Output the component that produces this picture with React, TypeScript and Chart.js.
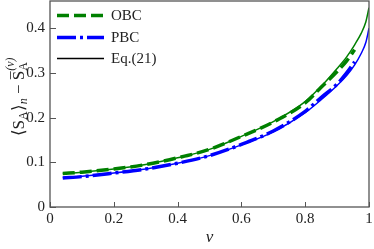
import React, { useEffect, useRef } from "react";
import { Chart, registerables } from "chart.js";

Chart.register(...registerables);

// ν values for the numerical curves
const nuNum = [0.04, 0.1, 0.2, 0.3, 0.4, 0.5, 0.6, 0.7, 0.8, 0.85, 0.9, 0.93, 0.955];
const obcValues = [0.075, 0.078, 0.085, 0.095, 0.11, 0.129, 0.158, 0.19, 0.233, 0.268, 0.303, 0.327, 0.352];
const pbcValues = [0.065, 0.068, 0.076, 0.085, 0.098, 0.115, 0.14, 0.17, 0.214, 0.245, 0.275, 0.3, 0.325];

// ν values for Eq.(21)
const nuEq = [0.04, 0.1, 0.2, 0.3, 0.4, 0.5, 0.6, 0.7, 0.8, 0.85, 0.9, 0.93, 0.955, 0.975, 0.99, 1];
const eqObcValues = [0.075, 0.078, 0.085, 0.095, 0.11, 0.129, 0.158, 0.191, 0.236, 0.27, 0.31, 0.336, 0.363, 0.388, 0.414, 0.446];
const eqPbcValues = [0.066, 0.069, 0.076, 0.085, 0.098, 0.115, 0.139, 0.168, 0.211, 0.24, 0.272, 0.294, 0.318, 0.343, 0.368, 0.4];

const legendLabels = ["OBC", "PBC", "Eq.(21)"];
const xTicks = [0, 0.2, 0.4, 0.6, 0.8, 1];
const yTicks = [0, 0.1, 0.2, 0.3, 0.4];

const GREEN = "#008000";
const BLUE = "#0000ff";
const AXIS = "#555555";
const SERIF = "Liberation Serif";

const pts = (xs: number[], ys: number[]) => xs.map((x, i) => ({ x, y: ys[i] }));

const framePlugin = {
  id: "frameTicks",
  afterDraw(chart: any) {
    const { ctx, chartArea } = chart;
    const { left, right, top, bottom } = chartArea;
    const xs = chart.scales.x;
    const ys = chart.scales.y;
    ctx.save();
    ctx.strokeStyle = AXIS;
    ctx.lineWidth = 1.3;
    ctx.setLineDash([]);
    ctx.strokeRect(left, top, right - left, bottom - top);
    ctx.lineWidth = 1;
    xTicks.forEach((v) => {
      const px = Math.round(xs.getPixelForValue(v)) + 0.5;
      ctx.beginPath();
      ctx.moveTo(px, bottom);
      ctx.lineTo(px, bottom - 5);
      ctx.stroke();
    });
    yTicks.forEach((v) => {
      const py = Math.round(ys.getPixelForValue(v)) + 0.5;
      ctx.beginPath();
      ctx.moveTo(left, py);
      ctx.lineTo(left + 6, py);
      ctx.stroke();
    });

    // legend
    const entries = [
      { color: GREEN, dash: [12, 5], width: 3.5, y: 15.5 },
      { color: BLUE, dash: [19, 4, 3, 4], width: 3.5, y: 37.5 },
      { color: "#000000", dash: [], width: 1.5, y: 58.5 },
    ];
    entries.forEach((e, i) => {
      ctx.beginPath();
      ctx.strokeStyle = e.color;
      ctx.lineWidth = e.width;
      ctx.setLineDash(e.dash);
      ctx.moveTo(57, e.y);
      ctx.lineTo(104, e.y);
      ctx.stroke();
      ctx.setLineDash([]);
      ctx.fillStyle = "#222";
      ctx.font = `15px "${SERIF}"`;
      ctx.textAlign = "left";
      ctx.textBaseline = "middle";
      ctx.fillText(legendLabels[i], 111, e.y + 1);
    });

    // y-axis label: ⟨S_A⟩_n − S̄_A^(ν)
    ctx.translate(24, 97);
    ctx.rotate(-Math.PI / 2);
    ctx.fillStyle = "#222";
    ctx.textBaseline = "alphabetic";
    ctx.textAlign = "left";
    const big = `17px "${SERIF}"`;
    const small = `12px "${SERIF}"`;
    const smallIt = `italic 12px "${SERIF}"`;
    const parts: { t: string; f: string; dy: number; adv?: boolean; bar?: boolean }[] = [
      { t: "\u27E8", f: big, dy: 0 },
      { t: "S", f: big, dy: 0 },
      { t: "A", f: small, dy: 3 },
      { t: "\u27E9", f: big, dy: 0 },
      { t: "n", f: smallIt, dy: 3 },
      { t: " \u2212 ", f: big, dy: 0 },
      { t: "S", f: big, dy: 0, bar: true },
      { t: "A", f: small, dy: 3, adv: false },
      { t: "(\u03BD)", f: smallIt, dy: -10 },
    ];
    let total = 0;
    parts.forEach((p) => {
      ctx.font = p.f;
      if (p.adv !== false) total += ctx.measureText(p.t).width;
    });
    let x = -total / 2;
    parts.forEach((p) => {
      ctx.font = p.f;
      ctx.fillText(p.t, x, p.dy);
      const w = ctx.measureText(p.t).width;
      if (p.bar) {
        ctx.strokeStyle = "#222";
        ctx.lineWidth = 0.8;
        ctx.beginPath();
        ctx.moveTo(x + 1, -13.5);
        ctx.lineTo(x + w - 0.5, -13.5);
        ctx.stroke();
      }
      if (p.adv !== false) x += w;
    });
    ctx.restore();
  },
};

export default function App() {
  const canvasRef = useRef<HTMLCanvasElement | null>(null);

  useEffect(() => {
    if (!canvasRef.current) return;
    const chart = new Chart(canvasRef.current, {
      type: "line",
      data: {
        datasets: [
          {
            label: "Eq.(21) OBC",
            data: pts(nuEq, eqObcValues),
            borderColor: GREEN,
            borderWidth: 1.5,
            pointRadius: 0,
            cubicInterpolationMode: "monotone",
            fill: false,
          },
          {
            label: "Eq.(21) PBC",
            data: pts(nuEq, eqPbcValues),
            borderColor: BLUE,
            borderWidth: 1.5,
            pointRadius: 0,
            cubicInterpolationMode: "monotone",
            fill: false,
          },
          {
            label: "OBC",
            data: pts(nuNum, obcValues),
            borderColor: GREEN,
            borderWidth: 3.5,
            borderDash: [12, 5],
            pointRadius: 0,
            cubicInterpolationMode: "monotone",
            fill: false,
          },
          {
            label: "PBC",
            data: pts(nuNum, pbcValues),
            borderColor: BLUE,
            borderWidth: 3.5,
            borderDash: [19, 4, 3, 4],
            pointRadius: 0,
            cubicInterpolationMode: "monotone",
            fill: false,
          },
        ],
      },
      options: {
        animation: false,
        responsive: false,
        maintainAspectRatio: false,
        layout: { padding: { top: 1, right: 5, left: 0, bottom: 0 } },
        plugins: { legend: { display: false }, tooltip: { enabled: false } },
        scales: {
          x: {
            type: "linear",
            min: 0,
            max: 1,
            grid: { display: false, drawTicks: false },
            border: { display: false },
            afterFit: (s: any) => {
              s.height = 42;
              s.paddingLeft = 0;
              s.paddingRight = 0;
            },
            afterBuildTicks: (s: any) => {
              s.ticks = xTicks.map((v) => ({ value: v }));
            },
            ticks: {
              padding: 3,
              color: "#222",
              font: { family: SERIF, size: 15 },
              maxRotation: 0,
              callback: (v: any) => (v === 0 ? "0" : v === 1 ? "1" : Number(v).toFixed(1)),
            },
            title: {
              display: true,
              text: "\u03BD",
              color: "#222",
              font: { family: SERIF, size: 17, style: "italic" },
              padding: { top: 0, bottom: 1 },
            },
          },
          y: {
            type: "linear",
            min: 0,
            max: 0.461,
            grid: { display: false, drawTicks: false },
            border: { display: false },
            afterFit: (s: any) => {
              s.width = 50;
              s.paddingTop = 0;
              s.paddingBottom = 0;
            },
            afterBuildTicks: (s: any) => {
              s.ticks = yTicks.map((v) => ({ value: v }));
            },
            ticks: {
              padding: 5,
              color: "#222",
              font: { family: SERIF, size: 15 },
              callback: (v: any) => (v === 0 ? "0" : Number(v).toFixed(1)),
            },
          },
        },
      },
      plugins: [framePlugin],
    } as any);
    return () => chart.destroy();
  }, []);

  return (
    <div style={{ position: "fixed", left: 0, top: 0, width: 374, height: 249, background: "#fff" }}>
      <canvas ref={canvasRef} width={374} height={249} style={{ width: 374, height: 249 }} />
    </div>
  );
}
